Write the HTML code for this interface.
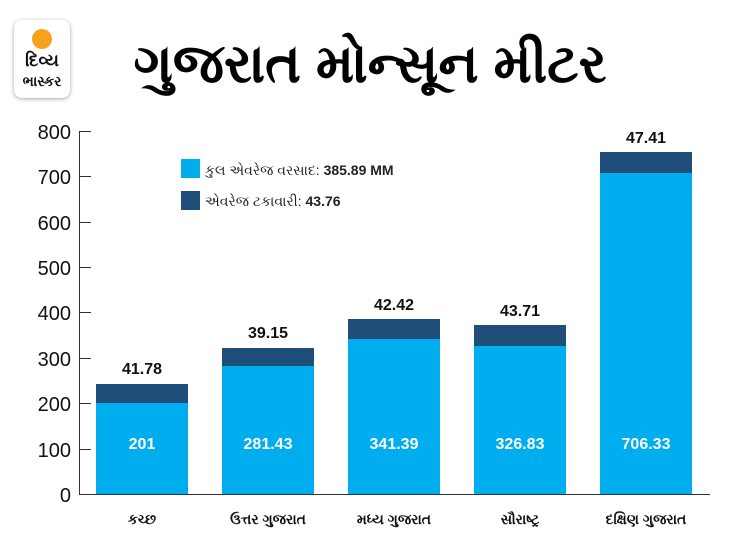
<!DOCTYPE html>
<html><head><meta charset="utf-8"><style>
body{margin:0;width:730px;height:548px;background:#fff;position:relative;overflow:hidden;font-family:"Liberation Sans",sans-serif}
.logo{position:absolute;left:14px;top:20px;width:56px;height:78px;border-radius:8px;background:#fff;box-shadow:0 1px 4px rgba(0,0,0,.35);text-align:center}
.sun{position:absolute;left:18px;top:9px;width:20px;height:20px;border-radius:50%;background:#f7a21b}
.lt{position:absolute;left:0;width:56px;font-weight:bold;font-size:17px;color:#111;line-height:18px}
.title{position:absolute;left:130px;top:24px;width:480px;text-align:center;font-weight:bold;font-size:54px;color:#000;line-height:80px;white-space:nowrap}
</style></head><body>
<div class="logo"><div class="sun"></div><div class="lt" style="top:32px">દિવ્ય</div><div class="lt" style="top:52px;font-size:14px">ભાસ્કર</div></div>
<div class="title">ગુજરાત મોન્સૂન મીટર</div>
<svg width="730" height="548" style="position:absolute;left:0;top:0" font-family="Liberation Sans, sans-serif">
<g stroke="#333" stroke-width="1">
<line x1="79.5" y1="131" x2="79.5" y2="494"/>
<line x1="79" y1="131.5" x2="91" y2="131.5"/><line x1="79" y1="176.5" x2="91" y2="176.5"/><line x1="79" y1="222.5" x2="91" y2="222.5"/><line x1="79" y1="267.5" x2="91" y2="267.5"/><line x1="79" y1="312.5" x2="91" y2="312.5"/><line x1="79" y1="358.5" x2="91" y2="358.5"/><line x1="79" y1="403.5" x2="91" y2="403.5"/><line x1="79" y1="449.5" x2="91" y2="449.5"/>
<line x1="79" y1="494.5" x2="710" y2="494.5"/>
</g>
<g font-size="20" fill="#111" text-anchor="end">
<text x="71" y="139">800</text><text x="71" y="184">700</text><text x="71" y="230">600</text><text x="71" y="275">500</text><text x="71" y="320">400</text><text x="71" y="366">300</text><text x="71" y="411">200</text><text x="71" y="457">100</text><text x="71" y="502">0</text>
</g>
<rect x="181" y="159" width="19" height="19" fill="#00aeef"/>
<rect x="181" y="191" width="19" height="19" fill="#1f4e79"/>
<text x="205" y="175" font-size="14" fill="#222">કુલ એવરેજ વરસાદ: <tspan font-weight="bold">385.89 MM</tspan></text>
<text x="205" y="206" font-size="14" fill="#222">એવરેજ ટકાવારી: <tspan font-weight="bold">43.76</tspan></text>
<g>
<rect x="96" y="384" width="92" height="19" fill="#1f4e79"/><rect x="96" y="403" width="92" height="91" fill="#00aeef"/>
<rect x="222" y="348" width="92" height="18" fill="#1f4e79"/><rect x="222" y="366" width="92" height="128" fill="#00aeef"/>
<rect x="348" y="319" width="92" height="20" fill="#1f4e79"/><rect x="348" y="339" width="92" height="155" fill="#00aeef"/>
<rect x="474" y="325" width="92" height="21" fill="#1f4e79"/><rect x="474" y="346" width="92" height="148" fill="#00aeef"/>
<rect x="600" y="152" width="92" height="21" fill="#1f4e79"/><rect x="600" y="173" width="92" height="321" fill="#00aeef"/>
</g>
<g font-size="16" fill="#fff" text-anchor="middle" font-weight="bold">
<text x="142" y="449">201</text><text x="268" y="449">281.43</text><text x="394" y="449">341.39</text><text x="520" y="449">326.83</text><text x="646" y="449">706.33</text>
</g>
<g font-size="16" fill="#111" text-anchor="middle" font-weight="bold">
<text x="142" y="374">41.78</text><text x="268" y="338">39.15</text><text x="394" y="310">42.42</text><text x="520" y="316">43.71</text><text x="646" y="143">47.41</text>
</g>
<g font-size="14" fill="#111" text-anchor="middle" font-weight="bold">
<text x="142" y="524">કચ્છ</text><text x="268" y="524">ઉત્તર ગુજરાત</text><text x="394" y="524">મધ્ય ગુજરાત</text><text x="520" y="524">સૌરાષ્ટ્ર</text><text x="646" y="524">દક્ષિણ ગુજરાત</text>
</g>
</svg>
</body></html>
